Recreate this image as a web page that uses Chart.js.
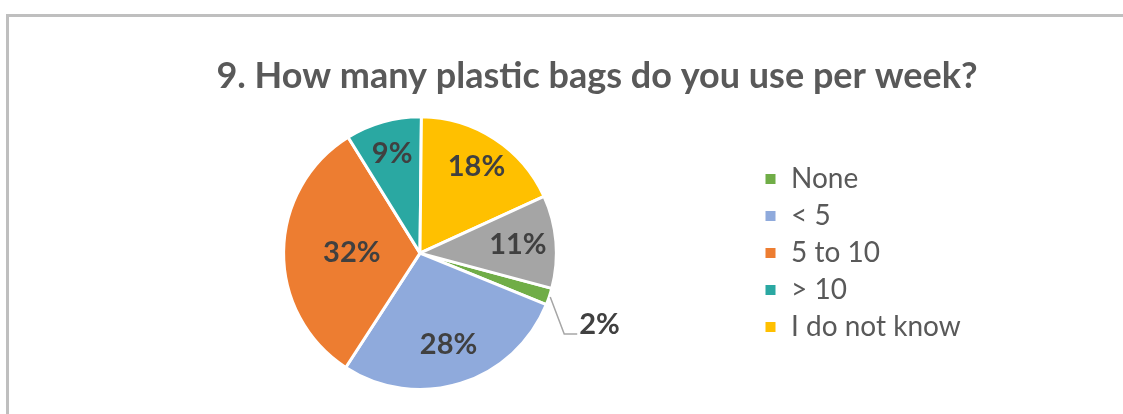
<!DOCTYPE html>
<html>
<head>
<meta charset="utf-8">
<title>Plastic bags per week</title>
<script src="https://cdn.jsdelivr.net/npm/chart.js@4/dist/chart.umd.min.js"></script>
<style>
  html, body { margin: 0; padding: 0; background: #fff; overflow: hidden; }
  body { width: 1123px; height: 414px; position: relative; }
  #frame {
    position: absolute; left: 6px; top: 14px; width: 1200px; height: 500px;
    border-left: 3px solid #bfbfbf; border-top: 3px solid #bfbfbf;
  }
  #wrap { position: absolute; left: 9px; top: 17px; width: 1100px; height: 397px; }
</style>
</head>
<body>
<div id="frame"></div>
<div id="wrap"><canvas id="bags-chart"></canvas></div>
<script>
// Survey answers, question 9
const categories = ['None', '< 5', '5 to 10', '> 10', 'I do not know', ''];
const shares = [2, 28, 32, 9, 18, 11];
const sliceColors = ['#70ad47', '#8faadc', '#ed7d31', '#2aa8a2', '#ffc000', '#a5a5a5'];

// Percent labels: inside the slice, or outside with a leader line
const percentLabels = {
  id: 'percentLabels',
  afterDatasetsDraw(chart, args, opts) {
    const ctx = chart.ctx;
    const meta = chart.getDatasetMeta(0);
    const values = chart.data.datasets[0].data;
    const total = values.reduce((a, b) => a + b, 0);
    ctx.save();
    ctx.font = opts.font;
    ctx.fillStyle = opts.color;
    meta.data.forEach((arc, i) => {
      const { x, y, startAngle, endAngle, outerRadius } = arc.getProps(['x', 'y', 'startAngle', 'endAngle', 'outerRadius'], true);
      const mid = (startAngle + endAngle) / 2;
      const text = Math.round(values[i] / total * 100) + '%';
      const frac = opts.radius[i];
      if (frac) {
        ctx.textAlign = 'center';
        ctx.textBaseline = 'middle';
        ctx.fillText(text, x + Math.cos(mid) * outerRadius * frac, y + Math.sin(mid) * outerRadius * frac);
      } else {
        // leader line from the rim down and out to the label
        const ex = x + Math.cos(mid) * (outerRadius + 1);
        const ey = y + Math.sin(mid) * (outerRadius + 1);
        const kx = ex + 14, ky = ey + 37;
        ctx.strokeStyle = '#a6a6a6';
        ctx.lineWidth = 1.5;
        ctx.beginPath();
        ctx.moveTo(ex, ey);
        ctx.lineTo(kx, ky);
        ctx.lineTo(kx + 13, ky);
        ctx.stroke();
        ctx.textAlign = 'left';
        ctx.textBaseline = 'middle';
        ctx.fillText(text, kx + 15, ky - 9);
      }
    });
    ctx.restore();
  }
};

// Wider legend box so the pie sits left of centre
const legendWidth = {
  id: 'legendWidth',
  beforeInit(chart, args, opts) {
    const fit = chart.legend.fit;
    chart.legend.fit = function () {
      fit.call(this);
      this.width = opts.width;
    };
  }
};

const ctx = document.getElementById('bags-chart').getContext('2d');
new Chart(ctx, {
  type: 'pie',
  data: {
    labels: categories,
    datasets: [{
      data: shares,
      backgroundColor: sliceColors,
      borderColor: '#ffffff',
      borderWidth: 3
    }]
  },
  options: {
    responsive: true,
    maintainAspectRatio: false,
    animation: false,
    rotation: 105,
    layout: { padding: { left: 76, right: 0, top: 0, bottom: 23 } },
    plugins: {
      title: {
        display: true,
        text: '9. How many plastic bags do you use per week?',
        color: '#595959',
        font: { family: 'Lato', size: 36, weight: 'bold' },
        padding: { top: 38, bottom: 17 }
      },
      legend: {
        position: 'right',
        fullSize: false,
        labels: {
          color: '#595959',
          font: { family: 'Lato', size: 28 },
          boxWidth: 13,
          boxHeight: 13,
          padding: 9,
          filter: (item) => item.text !== ''
        }
      },
      tooltip: { enabled: false },
      legendWidth: { width: 354 },
      percentLabels: {
        font: 'bold 29px Lato',
        color: '#404040',
        radius: [null, 0.70, 0.50, 0.76, 0.76, 0.72]
      }
    }
  },
  plugins: [legendWidth, percentLabels]
});
</script>
</body>
</html>
